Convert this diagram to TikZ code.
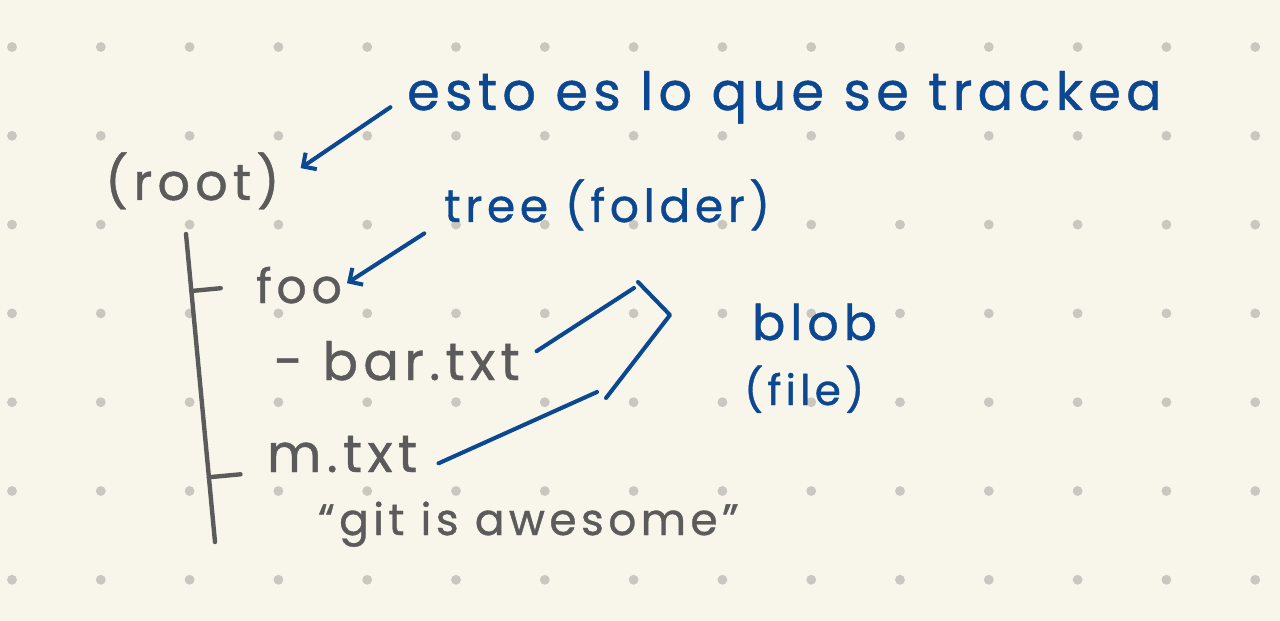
\documentclass[tikz,border=0pt]{standalone}
\usepackage{fontspec}
\newfontfamily\handfont[LetterSpace=10, FakeBold=0.8]{Poppins}
\usetikzlibrary{arrows.meta,calc}
\definecolor{paper}{HTML}{F8F6EB}
\definecolor{dotgray}{HTML}{C9C7BF}
\definecolor{penink}{HTML}{5B5B5B}
\definecolor{blueink}{HTML}{0C4791}

\begin{document}
\begin{tikzpicture}[x=0.02cm, y=-0.02cm, line cap=round, line join=round, hand/.style={anchor=base west, inner sep=1pt, font=\handfont\fontsize{#1}{#1}\selectfont}, pen/.style={penink, line width=2.5pt}, note/.style={blueink, line width=2.3pt}, >={Straight Barb[angle=90:8pt]}]
	\fill[paper] (0,0) rectangle (1280,621);
	\foreach \i in {0,...,14} {\foreach \j in {0,...,6} {\fill[dotgray] ({12+88.8*\i},{47+88.8*\j}) circle (2.8pt);}}
	\node[hand=29, text=penink] (root) at (103,200) {(root)};
	\node[hand=30, text=blueink] (esto) at (405,110) {esto es lo que se trackea};
	\node[hand=26, text=blueink] (tree) at (442,222) {tree (folder)};
	\node[hand=27, text=penink] (foo) at (254,303) {foo};
	\node[hand=30, text=penink] (bar) at (272,380) {- bar.txt};
	\node[hand=30, text=penink] (mtxt) at (265,472) {m.txt};
	\node[hand=25, text=penink] (git) at (316,535) {“git is awesome”};
	\node[hand=28, text=blueink] (blob) at (750,340) {blob};
	\node[hand=24, text=blueink] (file) at (742,405) {(file)};
	\coordinate (trunktop) at (186,234);
	\coordinate (trunkbot) at (215,542);
	\draw[pen] (trunktop) -- (trunkbot);
	\draw[pen, shorten >=19pt] ($(trunktop)!(foo.west)!(trunkbot)$) -- (foo.west);
	\draw[pen, shorten >=14pt] ($(trunktop)!(mtxt.base west)!(trunkbot)$) -- (mtxt.base west);
	\draw[note, ->, shorten <=10pt, shorten >=13pt] (esto.west) -- (root.east);
	\draw[note, ->, shorten <=12pt, shorten >=2pt] (tree.base west) -- (foo.east);
	\coordinate (brtop) at (638,282);
	\coordinate (brtip) at (670,315);
	\coordinate (brbot) at (606,398);
	\draw[note] (brtop) -- (brtip) -- (brbot);
	\coordinate (barend) at (634,288);
	\coordinate (mend) at (597,392);
	\draw[note, shorten <=10pt] (bar.east) -- (barend);
	\draw[note, shorten <=12pt] (mtxt.base east) -- (mend);
\end{tikzpicture}
\end{document}
